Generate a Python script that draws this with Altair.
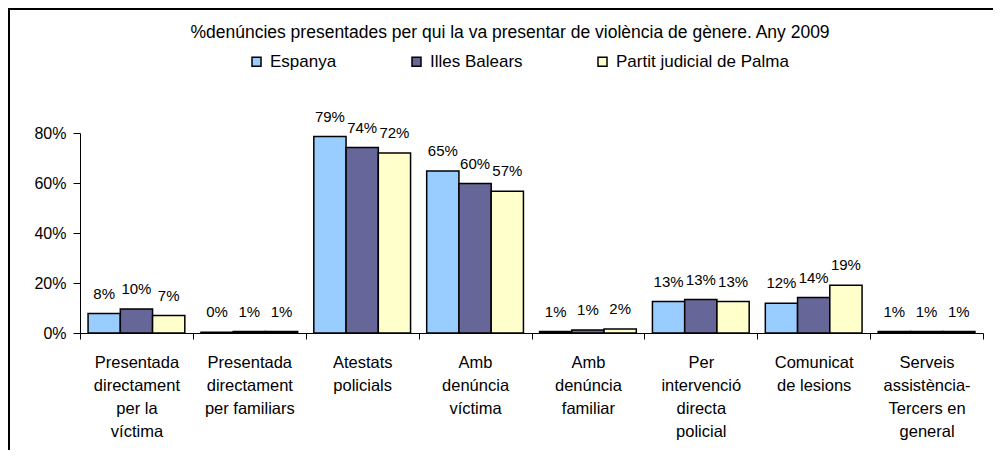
import altair as alt
import pandas as pd

title_text = "%denúncies presentades per qui la va presentar de violència de gènere. Any 2009"

categories = [
    "Presentada\ndirectament\nper la\nvíctima",
    "Presentada\ndirectament\nper familiars",
    "Atestats\npolicials",
    "Amb\ndenúncia\nvíctima",
    "Amb\ndenúncia\nfamiliar",
    "Per\nintervenció\ndirecta\npolicial",
    "Comunicat\nde lesions",
    "Serveis\nassistència-\nTercers en\ngeneral",
]
series = ["Espanya", "Illes Balears", "Partit judicial de Palma"]
colors = ["#99CCFF", "#666699", "#FFFFCC"]

espanya = [0.078, 0.003, 0.786, 0.648, 0.006, 0.126, 0.119, 0.006]
illes_balears = [0.096, 0.006, 0.742, 0.598, 0.012, 0.134, 0.142, 0.006]
partit_palma = [0.070, 0.006, 0.720, 0.567, 0.016, 0.126, 0.191, 0.006]

rows = []
for name, vals in zip(series, [espanya, illes_balears, partit_palma]):
    for c, v in zip(categories, vals):
        rows.append({"cat": c, "serie": name, "value": v})
df = pd.DataFrame(rows)

FONT = "Liberation Sans"
W, H = 903, 200

x_enc = alt.X(
    "cat:N",
    sort=categories,
    scale=alt.Scale(paddingInner=0, paddingOuter=0),
    axis=alt.Axis(
        title=None,
        labelAngle=0,
        labelExpr="split(datum.label, '\\n')",
        labelFont=FONT,
        labelFontSize=16.5,
        labelColor="black",
        labelLineHeight=23,
        labelPadding=15,
        labelBaseline="top",
        tickBand="extent",
        tickSize=6,
        tickColor="black",
        domainColor="black",
        labelLimit=200,
    ),
)
xoff = alt.XOffset(
    "serie:N", sort=series, scale=alt.Scale(paddingOuter=0.25, paddingInner=0)
)
y_enc = alt.Y(
    "value:Q",
    scale=alt.Scale(domain=[0, 0.8], nice=False),
    axis=alt.Axis(
        title=None,
        format=".0%",
        values=[0, 0.2, 0.4, 0.6, 0.8],
        grid=False,
        labelFont=FONT,
        labelFontSize=16,
        labelColor="black",
        tickSize=7,
        tickColor="black",
        labelPadding=7,
        domainColor="black",
    ),
)
color_enc = alt.Color(
    "serie:N",
    sort=series,
    scale=alt.Scale(domain=series, range=colors),
    legend=alt.Legend(
        title=None,
        orient="none",
        legendX=168,
        legendY=-80,
        direction="horizontal",
        symbolType="square",
        symbolSize=81,
        symbolStrokeColor="black",
        symbolStrokeWidth=1.5,
        symbolOpacity=1,
        labelFont=FONT,
        labelFontSize=17,
        labelColor="black",
        labelOffset=5,
        labelLimit=400,
        columnPadding=71,
    ),
)

bars = alt.Chart(df).mark_bar(stroke="black", strokeWidth=1.5).encode(
    x=x_enc, xOffset=xoff, y=y_enc, color=color_enc
)

labels = alt.Chart(df).mark_text(
    font=FONT, fontSize=15, color="black", baseline="middle", dy=-20
).encode(
    x=alt.X("cat:N", sort=categories),
    xOffset=alt.XOffset("serie:N", sort=series),
    y="value:Q",
    text=alt.Text("value:Q", format=".0%"),
)

one = pd.DataFrame({"t": [title_text]})
title = alt.Chart(one).mark_text(
    font=FONT, fontSize=17.5, color="black", align="center", baseline="alphabetic"
).encode(x=alt.value(430), y=alt.value(-95), text="t:N")

frame = alt.Chart(one).mark_rect(
    fillOpacity=0, stroke="black", strokeWidth=2
).encode(
    x=alt.value(-71), x2=alt.value(W + 100), y=alt.value(-124), y2=alt.value(H + 200)
)

chart = (
    alt.layer(frame, bars, labels, title)
    .properties(
        width=W,
        height=H,
        autosize=alt.AutoSizeParams(type="none"),
        padding={"left": 72, "top": 125, "right": 10, "bottom": 117},
        background="white",
    )
    .configure_view(stroke=None)
)

chart.save("out.html", embed_options={"renderer": "svg", "actions": False})
